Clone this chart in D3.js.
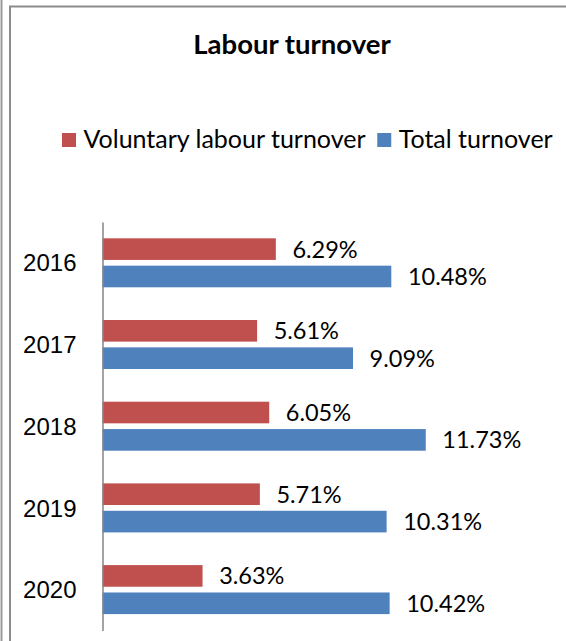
<!DOCTYPE html>
<html>
<head>
<meta charset="utf-8">
<script src="https://cdn.jsdelivr.net/npm/d3@7"></script>
<style>
    body { margin: 0; background: #fff; }
    svg { display: block; font-family: Lato, "Open Sans", sans-serif; }
    .axis path { stroke: #868686; stroke-width: 1.5; }
    .axis text { font-size: 24px; fill: #000; }
</style>
</head>
<body>
<div id="chart"></div>
<script>
// chart values
let years = ['2016', '2017', '2018', '2019', '2020'];
let seriesNames = ['Voluntary labour turnover', 'Total turnover'];
let seriesColors = ['#C0504D', '#4F81BD'];
let voluntary = [6.29, 5.61, 6.05, 5.71, 3.63];
let total = [10.48, 9.09, 11.73, 10.31, 10.42];

let width = 566, height = 641;

let svg = d3.select('#chart').append('svg')
    .attr('width', width)
    .attr('height', height);

// frame lines of the surrounding document
svg.append('line').attr('x1', 1.5).attr('x2', 1.5).attr('y1', 0).attr('y2', height)
    .attr('stroke', '#999').attr('stroke-width', 2);
svg.append('line').attr('x1', 10).attr('x2', 10).attr('y1', 6).attr('y2', height)
    .attr('stroke', '#8c8c8c').attr('stroke-width', 2);
svg.append('line').attr('x1', 9).attr('x2', width).attr('y1', 6.5).attr('y2', 6.5)
    .attr('stroke', '#8c8c8c').attr('stroke-width', 2);

// title
svg.append('text')
    .attr('x', 292).attr('y', 54)
    .attr('text-anchor', 'middle')
    .style('font-size', '27.5px')
    .style('font-weight', 'bold')
    .text('Labour turnover');

// legend
let legend = svg.append('g');
let lx = 62;
seriesNames.forEach((name, i) => {
    legend.append('rect')
        .attr('x', lx).attr('y', 133)
        .attr('width', 14).attr('height', 14)
        .attr('fill', seriesColors[i]);
    let t = legend.append('text')
        .attr('x', lx + 21.5).attr('y', 147.5)
        .style('font-size', '25px')
        .text(name);
    lx = lx + 21.5 + t.node().getComputedTextLength() + 11.7;
});

// scales
let x = d3.scaleLinear().domain([0, 14]).range([102.5, 488.3]);
let y = d3.scaleBand().domain(years).range([222, 630.5]);
let inner = d3.scaleBand().domain([0, 1]).range([16.3, 65.3]).paddingInner(0.21);

let rows = years.map((yr, i) => ({year: yr, values: [voluntary[i], total[i]]}));

let groups = svg.selectAll('g.year')
    .data(rows)
    .enter()
    .append('g')
    .attr('class', 'year')
    .attr('transform', d => 'translate(0,' + y(d.year) + ')');

groups.selectAll('rect')
    .data(d => d.values.map((v, k) => ({k: k, v: v})))
    .enter()
    .append('rect')
    .attr('x', x(0))
    .attr('y', d => inner(d.k))
    .attr('width', d => x(d.v) - x(0))
    .attr('height', inner.bandwidth())
    .attr('fill', d => seriesColors[d.k]);

groups.selectAll('text.label')
    .data(d => d.values.map((v, k) => ({k: k, v: v})))
    .enter()
    .append('text')
    .attr('class', 'label')
    .attr('x', d => x(d.v) + 16.6)
    .attr('y', d => inner(d.k) + inner.bandwidth() / 2 + 8.5)
    .style('font-size', '23.5px')
    .text(d => d.v.toFixed(2) + '%');

// category axis
svg.append('g')
    .attr('class', 'axis')
    .attr('transform', 'translate(' + x(0) + ',0)')
    .call(d3.axisLeft(y).tickSize(0).tickSizeOuter(0).tickPadding(26))
    .call(g => g.selectAll('text').attr('dy', '0.36em'));
</script>
</body>
</html>
